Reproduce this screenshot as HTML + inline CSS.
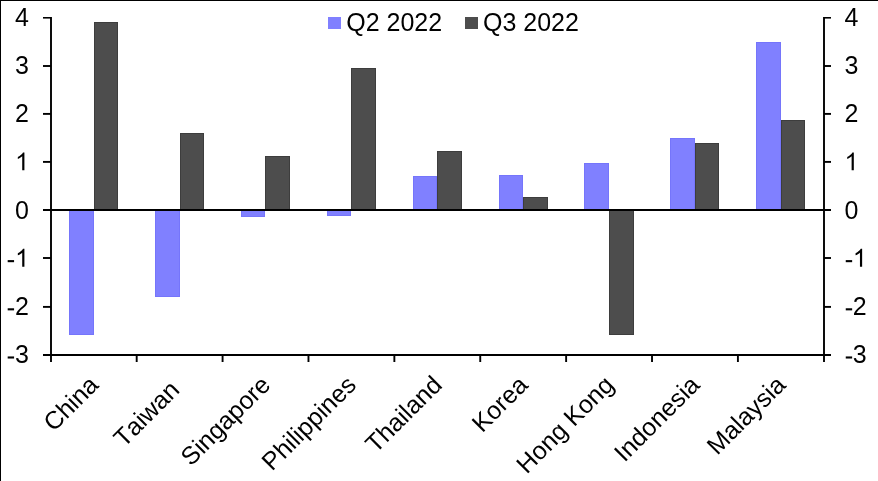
<!DOCTYPE html><html><head><meta charset="utf-8"><style>html,body{margin:0;padding:0;background:#fff}body{width:878px;height:481px;overflow:hidden}svg{display:block}text{font-family:"Liberation Sans",sans-serif;fill:#000;font-kerning:none}</style></head><body>
<svg width="878" height="481" viewBox="0 0 878 481">
<defs><path id="one" d="M763 0H583V1147Q518 1085 412.5 1023Q307 961 223 930V1104Q374 1175 487 1276Q600 1377 647 1472H763Z"/></defs>
<rect x="0" y="0" width="878" height="481" fill="#fff"/>
<rect x="0" y="0" width="878" height="1" fill="#000"/><rect x="0" y="0" width="1" height="481" fill="#000"/>
<rect x="69" y="210.0" width="25" height="125.0" fill="#7575fb"/>
<rect x="70" y="211.0" width="23" height="123.0" fill="#8080ff"/>
<rect x="94" y="22" width="24" height="188.0" fill="#3d3d3d"/>
<rect x="95" y="23" width="22" height="186.0" fill="#4d4d4d"/>
<rect x="155" y="210.0" width="25" height="87.0" fill="#7575fb"/>
<rect x="156" y="211.0" width="23" height="85.0" fill="#8080ff"/>
<rect x="180" y="133" width="24" height="77.0" fill="#3d3d3d"/>
<rect x="181" y="134" width="22" height="75.0" fill="#4d4d4d"/>
<rect x="241" y="210.0" width="24" height="7.0" fill="#7575fb"/>
<rect x="242" y="211.0" width="22" height="5.0" fill="#8080ff"/>
<rect x="265" y="156" width="25" height="54.0" fill="#3d3d3d"/>
<rect x="266" y="157" width="23" height="52.0" fill="#4d4d4d"/>
<rect x="327" y="210.0" width="24" height="6.0" fill="#7575fb"/>
<rect x="328" y="211.0" width="22" height="4.0" fill="#8080ff"/>
<rect x="351" y="68" width="25" height="142.0" fill="#3d3d3d"/>
<rect x="352" y="69" width="23" height="140.0" fill="#4d4d4d"/>
<rect x="413" y="176" width="24" height="34.0" fill="#7575fb"/>
<rect x="414" y="177" width="22" height="32.0" fill="#8080ff"/>
<rect x="437" y="151" width="25" height="59.0" fill="#3d3d3d"/>
<rect x="438" y="152" width="23" height="57.0" fill="#4d4d4d"/>
<rect x="499" y="175" width="24" height="35.0" fill="#7575fb"/>
<rect x="500" y="176" width="22" height="33.0" fill="#8080ff"/>
<rect x="523" y="197" width="25" height="13.0" fill="#3d3d3d"/>
<rect x="524" y="198" width="23" height="11.0" fill="#4d4d4d"/>
<rect x="584" y="163" width="25" height="47.0" fill="#7575fb"/>
<rect x="585" y="164" width="23" height="45.0" fill="#8080ff"/>
<rect x="609" y="210.0" width="25" height="125.0" fill="#3d3d3d"/>
<rect x="610" y="211.0" width="23" height="123.0" fill="#4d4d4d"/>
<rect x="670" y="138" width="25" height="72.0" fill="#7575fb"/>
<rect x="671" y="139" width="23" height="70.0" fill="#8080ff"/>
<rect x="695" y="143" width="24" height="67.0" fill="#3d3d3d"/>
<rect x="696" y="144" width="22" height="65.0" fill="#4d4d4d"/>
<rect x="756" y="42" width="25" height="168.0" fill="#7575fb"/>
<rect x="757" y="43" width="23" height="166.0" fill="#8080ff"/>
<rect x="781" y="120" width="24" height="90.0" fill="#3d3d3d"/>
<rect x="782" y="121" width="22" height="88.0" fill="#4d4d4d"/>
<g stroke="#000" stroke-width="1.9" fill="none">
<line x1="51.0" y1="17" x2="51.0" y2="362"/>
<line x1="824.0" y1="17" x2="824.0" y2="362"/>
<line x1="43" y1="355.00" x2="51.0" y2="355.00" stroke-width="1.9"/>
<line x1="824.0" y1="355.00" x2="831" y2="355.00" stroke-width="1.9"/>
<line x1="43" y1="306.90" x2="51.0" y2="306.90" stroke-width="1.9"/>
<line x1="824.0" y1="306.90" x2="831" y2="306.90" stroke-width="1.9"/>
<line x1="43" y1="258.00" x2="51.0" y2="258.00" stroke-width="1.9"/>
<line x1="824.0" y1="258.00" x2="831" y2="258.00" stroke-width="1.9"/>
<line x1="43" y1="210.00" x2="51.0" y2="210.00" stroke-width="1.9"/>
<line x1="824.0" y1="210.00" x2="831" y2="210.00" stroke-width="1.9"/>
<line x1="43" y1="161.90" x2="51.0" y2="161.90" stroke-width="1.9"/>
<line x1="824.0" y1="161.90" x2="831" y2="161.90" stroke-width="1.9"/>
<line x1="43" y1="113.90" x2="51.0" y2="113.90" stroke-width="1.9"/>
<line x1="824.0" y1="113.90" x2="831" y2="113.90" stroke-width="1.9"/>
<line x1="43" y1="66.00" x2="51.0" y2="66.00" stroke-width="1.9"/>
<line x1="824.0" y1="66.00" x2="831" y2="66.00" stroke-width="1.9"/>
<line x1="43" y1="17.80" x2="51.0" y2="17.80" stroke-width="1.6"/>
<line x1="824.0" y1="17.80" x2="831" y2="17.80" stroke-width="1.6"/>
<line x1="43" y1="210.0" x2="831" y2="210.0" stroke-width="2.1"/>
<line x1="43" y1="355.00" x2="831" y2="355.00" stroke-width="2.1"/>
<line x1="136.69" y1="355.00" x2="136.69" y2="362"/>
<line x1="222.58" y1="355.00" x2="222.58" y2="362"/>
<line x1="308.47" y1="355.00" x2="308.47" y2="362"/>
<line x1="394.36" y1="355.00" x2="394.36" y2="362"/>
<line x1="480.24" y1="355.00" x2="480.24" y2="362"/>
<line x1="566.13" y1="355.00" x2="566.13" y2="362"/>
<line x1="652.02" y1="355.00" x2="652.02" y2="362"/>
<line x1="737.91" y1="355.00" x2="737.91" y2="362"/>
</g>
<g opacity="0.999">
<text x="15.10" y="363.04" font-size="25">3</text>
<rect x="7.68" y="356.44" width="6.4" height="2.1" fill="#000"/>
<rect x="845.75" y="356.44" width="6.4" height="2.1" fill="#000"/>
<text x="852.83" y="363.04" font-size="25">3</text>
<text x="15.10" y="314.87" font-size="25">2</text>
<rect x="7.68" y="308.27" width="6.4" height="2.1" fill="#000"/>
<rect x="845.75" y="308.27" width="6.4" height="2.1" fill="#000"/>
<text x="852.83" y="314.87" font-size="25">2</text>
<use href="#one" transform="translate(15.10 266.70) scale(0.012207 -0.012207)"/>
<rect x="7.68" y="260.10" width="6.4" height="2.1" fill="#000"/>
<rect x="845.75" y="260.10" width="6.4" height="2.1" fill="#000"/>
<use href="#one" transform="translate(852.83 266.70) scale(0.012207 -0.012207)"/>
<text x="15.10" y="218.95" font-size="25">0</text>
<text x="844.50" y="218.95" font-size="25">0</text>
<use href="#one" transform="translate(15.10 170.36) scale(0.012207 -0.012207)"/>
<use href="#one" transform="translate(844.50 170.36) scale(0.012207 -0.012207)"/>
<text x="15.10" y="122.19" font-size="25">2</text>
<text x="844.50" y="122.19" font-size="25">2</text>
<text x="15.10" y="74.02" font-size="25">3</text>
<text x="844.50" y="74.02" font-size="25">3</text>
<text x="15.10" y="25.85" font-size="25">4</text>
<text x="844.50" y="25.85" font-size="25">4</text>
<rect x="328" y="17" width="13" height="12" fill="#8080ff"/>
<text x="346.2" y="31" font-size="25">Q2 2022</text>
<rect x="465" y="17" width="13" height="12" fill="#4d4d4d"/>
<text x="483" y="31" font-size="25">Q3 2022</text>
<text x="99.94" y="386.30" font-size="25" text-anchor="end" transform="rotate(-45 99.94 386.30)">China</text>
<text x="180.92" y="391.21" font-size="25" text-anchor="end" transform="rotate(-45 180.92 391.21)">Taiwan</text>
<text x="271.72" y="386.30" font-size="25" text-anchor="end" transform="rotate(-45 271.72 386.30)">Singapore</text>
<text x="357.61" y="386.30" font-size="25" text-anchor="end" transform="rotate(-45 357.61 386.30)">Philippines</text>
<text x="443.50" y="386.30" font-size="25" text-anchor="end" transform="rotate(-45 443.50 386.30)">Thailand</text>
<text x="529.39" y="386.30" font-size="25" text-anchor="end" transform="rotate(-45 529.39 386.30)">Korea</text>
<text x="615.28" y="386.30" font-size="25" text-anchor="end" transform="rotate(-45 615.28 386.30)">Hong Kong</text>
<text x="701.17" y="386.30" font-size="25" text-anchor="end" transform="rotate(-45 701.17 386.30)">Indonesia</text>
<text x="787.06" y="386.30" font-size="25" text-anchor="end" transform="rotate(-45 787.06 386.30)">Malaysia</text>
</g>
</svg></body></html>
